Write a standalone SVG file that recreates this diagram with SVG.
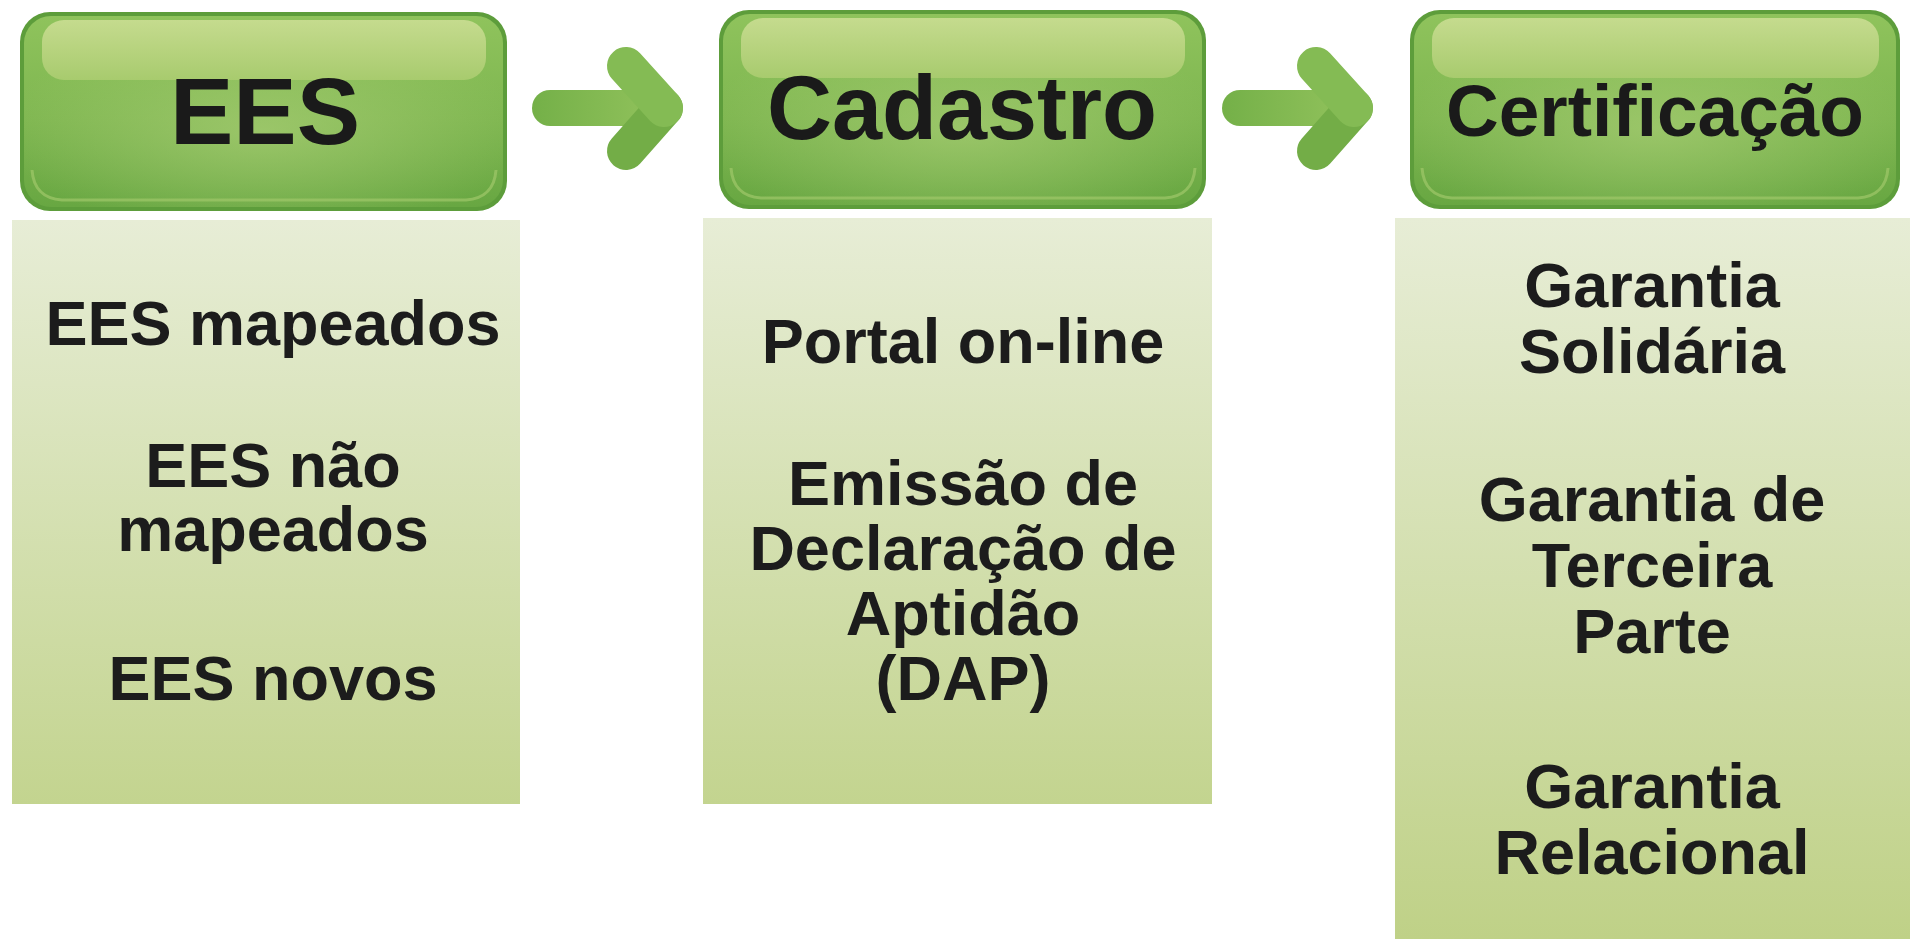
<svg xmlns="http://www.w3.org/2000/svg" width="1910" height="939" viewBox="0 0 1910 939">
<defs>
<linearGradient id="hdrFill" x1="0" y1="0" x2="0" y2="1">
<stop offset="0" stop-color="#8fc35c"/>
<stop offset="0.55" stop-color="#7eb650"/>
<stop offset="1" stop-color="#68a742"/>
</linearGradient>
<radialGradient id="hdrGlow" cx="0.5" cy="0.6" r="0.55">
<stop offset="0" stop-color="#a8cd74" stop-opacity="0.7"/>
<stop offset="1" stop-color="#a8cd74" stop-opacity="0"/>
</radialGradient>
<linearGradient id="hdrShine" x1="0" y1="0" x2="0" y2="1">
<stop offset="0" stop-color="#c5db8e"/>
<stop offset="1" stop-color="#a8cb6e"/>
</linearGradient>
<linearGradient id="panelFill" x1="0" y1="0" x2="0" y2="1">
<stop offset="0" stop-color="#e7edd6"/>
<stop offset="1" stop-color="#c3d48f"/>
</linearGradient>
<linearGradient id="panelFill3" x1="0" y1="0" x2="0" y2="1">
<stop offset="0" stop-color="#e7edd6"/>
<stop offset="1" stop-color="#bfd187"/>
</linearGradient>
<linearGradient id="shaftFill" x1="0" y1="0" x2="1" y2="0">
<stop offset="0" stop-color="#74b048"/>
<stop offset="1" stop-color="#93c35d"/>
</linearGradient>
</defs>
<style>
.hdrBorder{fill:#5d9d3b}
.hdrBody{fill:url(#hdrFill)}
.hdrGlow{fill:url(#hdrGlow)}
.hdrShine{fill:url(#hdrShine)}
.hdrEdge{fill:none;stroke:#9fc86a;stroke-width:3;opacity:0.7}
.title{font-family:"Liberation Sans",Arial,sans-serif;font-weight:bold;fill:#1a1a1a;text-anchor:middle}
.item{font-family:"Liberation Sans",Arial,sans-serif;font-weight:bold;font-size:63px;fill:#1c1c1c;text-anchor:middle}
.shaft{fill:url(#shaftFill)}
.chevTop{stroke:#84bb54;stroke-width:38;stroke-linecap:round;fill:none}
.chevBot{stroke:#73ad47;stroke-width:38;stroke-linecap:round;fill:none}
</style>
<rect width="1910" height="939" fill="#ffffff"/>

<g id="node-ees">
<rect class="hdrBorder" x="20" y="12" width="487" height="199" rx="30"/>
<rect class="hdrBody" x="24" y="16" width="479" height="191" rx="27"/>
<rect class="hdrGlow" x="24" y="16" width="479" height="191" rx="27"/>
<rect class="hdrShine" x="42" y="20" width="444" height="60" rx="22"/>
<path class="hdrEdge" d="M32 170 Q34 198 62 200 L466 200 Q494 198 496 170"/>
<text class="title" x="265" y="144" font-size="95">EES</text>
</g>

<g id="panel-ees">
<rect x="12" y="220" width="508" height="584" fill="url(#panelFill)"/>
<text class="item" x="273" y="345">EES mapeados</text>
<text class="item" x="273" y="487">EES não</text>
<text class="item" x="273" y="551">mapeados</text>
<text class="item" x="273" y="700">EES novos</text>
</g>

<g id="node-cadastro">
<rect class="hdrBorder" x="719" y="10" width="487" height="199" rx="30"/>
<rect class="hdrBody" x="723" y="14" width="479" height="191" rx="27"/>
<rect class="hdrGlow" x="723" y="14" width="479" height="191" rx="27"/>
<rect class="hdrShine" x="741" y="18" width="444" height="60" rx="22"/>
<path class="hdrEdge" d="M731 168 Q733 196 761 198 L1165 198 Q1193 196 1195 168"/>
<text class="title" x="962" y="139" font-size="90">Cadastro</text>
</g>

<g id="panel-cadastro">
<rect x="703" y="218" width="509" height="586" fill="url(#panelFill)"/>
<text class="item" x="963" y="363">Portal on-line</text>
<text class="item" x="963" y="505">Emissão de</text>
<text class="item" x="963" y="570">Declaração de</text>
<text class="item" x="963" y="635">Aptidão</text>
<text class="item" x="963" y="700">(DAP)</text>
</g>

<g id="node-certificacao">
<rect class="hdrBorder" x="1410" y="10" width="490" height="199" rx="30"/>
<rect class="hdrBody" x="1414" y="14" width="482" height="191" rx="27"/>
<rect class="hdrGlow" x="1414" y="14" width="482" height="191" rx="27"/>
<rect class="hdrShine" x="1432" y="18" width="447" height="60" rx="22"/>
<path class="hdrEdge" d="M1422 168 Q1424 196 1452 198 L1858 198 Q1886 196 1888 168"/>
<text class="title" x="1655" y="136" font-size="73">Certificação</text>
</g>

<g id="panel-certificacao">
<rect x="1395" y="218" width="515" height="721" fill="url(#panelFill3)"/>
<text class="item" x="1652" y="307">Garantia</text>
<text class="item" x="1652" y="373">Solidária</text>
<text class="item" x="1652" y="521">Garantia de</text>
<text class="item" x="1652" y="587">Terceira</text>
<text class="item" x="1652" y="653">Parte</text>
<text class="item" x="1652" y="808">Garantia</text>
<text class="item" x="1652" y="874">Relacional</text>
</g>

<g id="connectors">
<g id="arrow-1">
<rect class="shaft" x="532" y="90" width="135" height="36" rx="18"/>
<polyline class="chevBot" points="664,108 626,151"/>
<polyline class="chevTop" points="626,66 664,108"/>
</g>
<g id="arrow-2">
<rect class="shaft" x="1222" y="90" width="135" height="36" rx="18"/>
<polyline class="chevBot" points="1354,108 1316,151"/>
<polyline class="chevTop" points="1316,66 1354,108"/>
</g>
</g>
</svg>
